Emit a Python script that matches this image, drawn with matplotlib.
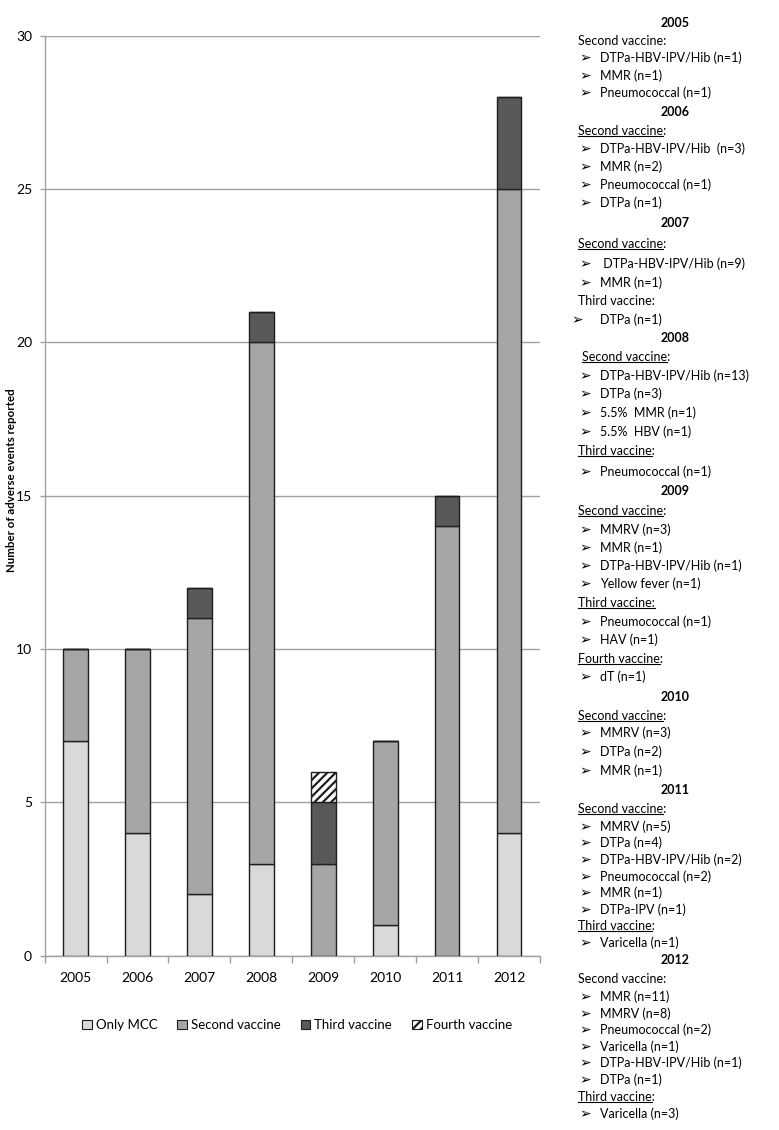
import matplotlib
matplotlib.use("Agg")
import matplotlib.pyplot as plt
from matplotlib.lines import Line2D
import numpy as np

# ---------------- data ----------------
years = ["2005", "2006", "2007", "2008", "2009", "2010", "2011", "2012"]
only_mcc = [7, 4, 2, 3, 0, 1, 0, 4]
second_vaccine = [3, 6, 9, 17, 3, 6, 14, 21]
third_vaccine = [0, 0, 1, 1, 2, 0, 1, 3]
fourth_vaccine = [0, 0, 0, 0, 1, 0, 0, 0]
series_names = ["Only MCC", "Second vaccine", "Third vaccine", "Fourth vaccine"]
y_label = "Number of adverse events reported"
y_ticks = [0, 5, 10, 15, 20, 25, 30]

# side notes: (kind, text, underlined)
notes = [
    ("year", "2005", False),
    ("head", "Second vaccine:", False),
    ("item", "DTPa-HBV-IPV/Hib (n=1)", False),
    ("item", "MMR (n=1)", False),
    ("item", "Pneumococcal (n=1)", False),
    ("year", "2006", False),
    ("head", "Second vaccine:", True),
    ("item", "DTPa-HBV-IPV/Hib  (n=3)", False),
    ("item", "MMR (n=2)", False),
    ("item", "Pneumococcal (n=1)", False),
    ("item", "DTPa (n=1)", False),
    ("year", "2007", False),
    ("head", "Second vaccine:", True),
    ("item2", " DTPa-HBV-IPV/Hib (n=9)", False),
    ("item", "MMR (n=1)", False),
    ("head", "Third vaccine:", False),
    ("item3", "DTPa (n=1)", False),
    ("year", "2008", False),
    ("head2", "Second vaccine:", True),
    ("item", "DTPa-HBV-IPV/Hib (n=13)", False),
    ("item", "DTPa (n=3)", False),
    ("item", "5.5%  MMR (n=1)", False),
    ("item", "5.5%  HBV (n=1)", False),
    ("head", "Third vaccine:", True),
    ("item", "Pneumococcal (n=1)", False),
    ("year", "2009", False),
    ("head", "Second vaccine:", True),
    ("item", "MMRV (n=3)", False),
    ("item", "MMR (n=1)", False),
    ("item", "DTPa-HBV-IPV/Hib (n=1)", False),
    ("item", "Yellow fever (n=1)", False),
    ("head", "Third vaccine:", True),
    ("item", "Pneumococcal (n=1)", False),
    ("item", "HAV (n=1)", False),
    ("head", "Fourth vaccine:", True),
    ("item", "dT (n=1)", False),
    ("year", "2010", False),
    ("head", "Second vaccine:", True),
    ("item", "MMRV (n=3)", False),
    ("item", "DTPa (n=2)", False),
    ("item", "MMR (n=1)", False),
    ("year", "2011", False),
    ("head", "Second vaccine:", True),
    ("item", "MMRV (n=5)", False),
    ("item", "DTPa (n=4)", False),
    ("item", "DTPa-HBV-IPV/Hib (n=2)", False),
    ("item", "Pneumococcal (n=2)", False),
    ("item", "MMR (n=1)", False),
    ("item", "DTPa-IPV (n=1)", False),
    ("head", "Third vaccine:", True),
    ("item", "Varicella (n=1)", False),
    ("year", "2012", False),
    ("head", "Second vaccine:", False),
    ("item", "MMR (n=11)", False),
    ("item", "MMRV (n=8)", False),
    ("item", "Pneumococcal (n=2)", False),
    ("item", "Varicella (n=1)", False),
    ("item", "DTPa-HBV-IPV/Hib (n=1)", False),
    ("item", "DTPa (n=1)", False),
    ("head", "Third vaccine:", True),
    ("item", "Varicella (n=3)", False),
]

# layout: vertical pixel positions (from top) of the side-note lines
note_y_px = [23, 41, 58, 76, 93,
             112, 131, 149, 167, 185, 203,
             223, 244, 264, 283, 301, 320,
             338, 357, 376, 394, 413, 432, 451, 472,
             491, 511, 530, 548, 566, 584, 603, 622, 640, 659, 677,
             697, 716, 733, 752, 771,
             790, 809, 827, 843, 860, 877, 893, 910, 926, 943,
             960, 979, 997, 1014, 1030, 1047, 1063, 1080, 1097, 1114]

# ---------------- figure ----------------
W, H = 779, 1130
fig = plt.figure(figsize=(W / 100, H / 100), dpi=100)
FONT = ["Lato", "DejaVu Sans"]
plt.rcParams["font.family"] = FONT

ax = fig.add_axes([44.6 / W, 1 - 955.7 / H, (540 - 44.6) / W, (955.7 - 35.7) / H])

x = np.arange(len(years))
bw = 0.4
c_mcc, c_sec, c_thi = "#d9d9d9", "#a6a6a6", "#595959"
edge = "#1e1e1e"
plt.rcParams["hatch.linewidth"] = 1.6

b0 = np.array(only_mcc)
b1 = b0 + np.array(second_vaccine)
b2 = b1 + np.array(third_vaccine)

ax.bar(x, only_mcc, bw, color=c_mcc, edgecolor=edge, linewidth=1, label=series_names[0], zorder=3)
ax.bar(x, second_vaccine, bw, bottom=b0, color=c_sec, edgecolor=edge, linewidth=1, label=series_names[1], zorder=3)
ax.bar(x, third_vaccine, bw, bottom=b1, color=c_thi, edgecolor=edge, linewidth=1, label=series_names[2], zorder=3)
ax.bar(x, fourth_vaccine, bw, bottom=b2, color="white", edgecolor=edge, linewidth=1, hatch="////",
       label=series_names[3], zorder=3)

ax.set_xlim(-0.5, len(years) - 0.5)
ax.set_ylim(0, 30)
ax.set_yticks(y_ticks)
ax.yaxis.grid(True, color="#a0a0a0", linewidth=1)
ax.set_axisbelow(True)
ax.set_xticks(x)
ax.set_xticklabels(years, fontsize=10)
ax.set_xticks(np.arange(-0.5, len(years)), minor=True)
ax.tick_params(axis="x", which="major", length=0, pad=12)
ax.tick_params(axis="x", which="minor", length=5, color="#a0a0a0", width=1, direction="out")
ax.tick_params(axis="y", length=3.5, color="#a0a0a0", width=1, direction="out", labelsize=10, pad=5.5)
for s in ["top", "right"]:
    ax.spines[s].set_visible(False)
for s in ["left", "bottom"]:
    ax.spines[s].set_color("#a0a0a0")
    ax.spines[s].set_linewidth(1)
fig.text(12 / W, 1 - 480 / H, y_label, rotation=90, ha="center", va="center",
         fontsize=8.3, fontweight="bold")

leg = ax.legend(loc="center", bbox_to_anchor=(297 / W, 1 - 1025 / H), bbox_transform=fig.transFigure,
                ncol=4, frameon=False, fontsize=9.5, handlelength=0.75, handleheight=0.75,
                handletextpad=0.3, columnspacing=1.5)
for p in leg.get_patches():
    p.set_linewidth(0.8)

# ---------------- side notes ----------------
fs = 9
texts = []
for (kind, txt, ul), ypx in zip(notes, note_y_px):
    yf = 1 - ypx / H
    if kind == "year":
        fig.text(675 / W, yf, txt, ha="center", va="center", fontsize=fs, fontweight="bold")
    elif kind in ("head", "head2"):
        xs = 578 if kind == "head" else 582
        fig.text(xs / W, yf, txt, ha="left", va="center", fontsize=fs)
        if ul:
            lab = txt if txt.startswith("Third") and 500 < ypx < 700 else txt.rstrip(":")
            texts.append((xs, yf, lab))
    else:
        ax_x = 579 if kind != "item3" else 571
        fig.text(ax_x / W, yf, "\u27a2", ha="left", va="center", fontsize=10,
                 fontweight="bold", family=["DejaVu Sans"])
        fig.text(600 / W, yf, txt, ha="left", va="center", fontsize=fs)

fig.canvas.draw()
r = fig.canvas.get_renderer()
for xs, yf, lab in texts:
    tmp = fig.text(xs / W, yf, lab, ha="left", va="center", fontsize=fs)
    bb = tmp.get_window_extent(renderer=r)
    tmp.remove()
    yline = bb.y0 + 1.0
    fig.add_artist(Line2D([bb.x0 / W, bb.x1 / W], [yline / H, yline / H],
                          transform=fig.transFigure, color="black", linewidth=0.8))

fig.savefig("out.png", dpi=100)
